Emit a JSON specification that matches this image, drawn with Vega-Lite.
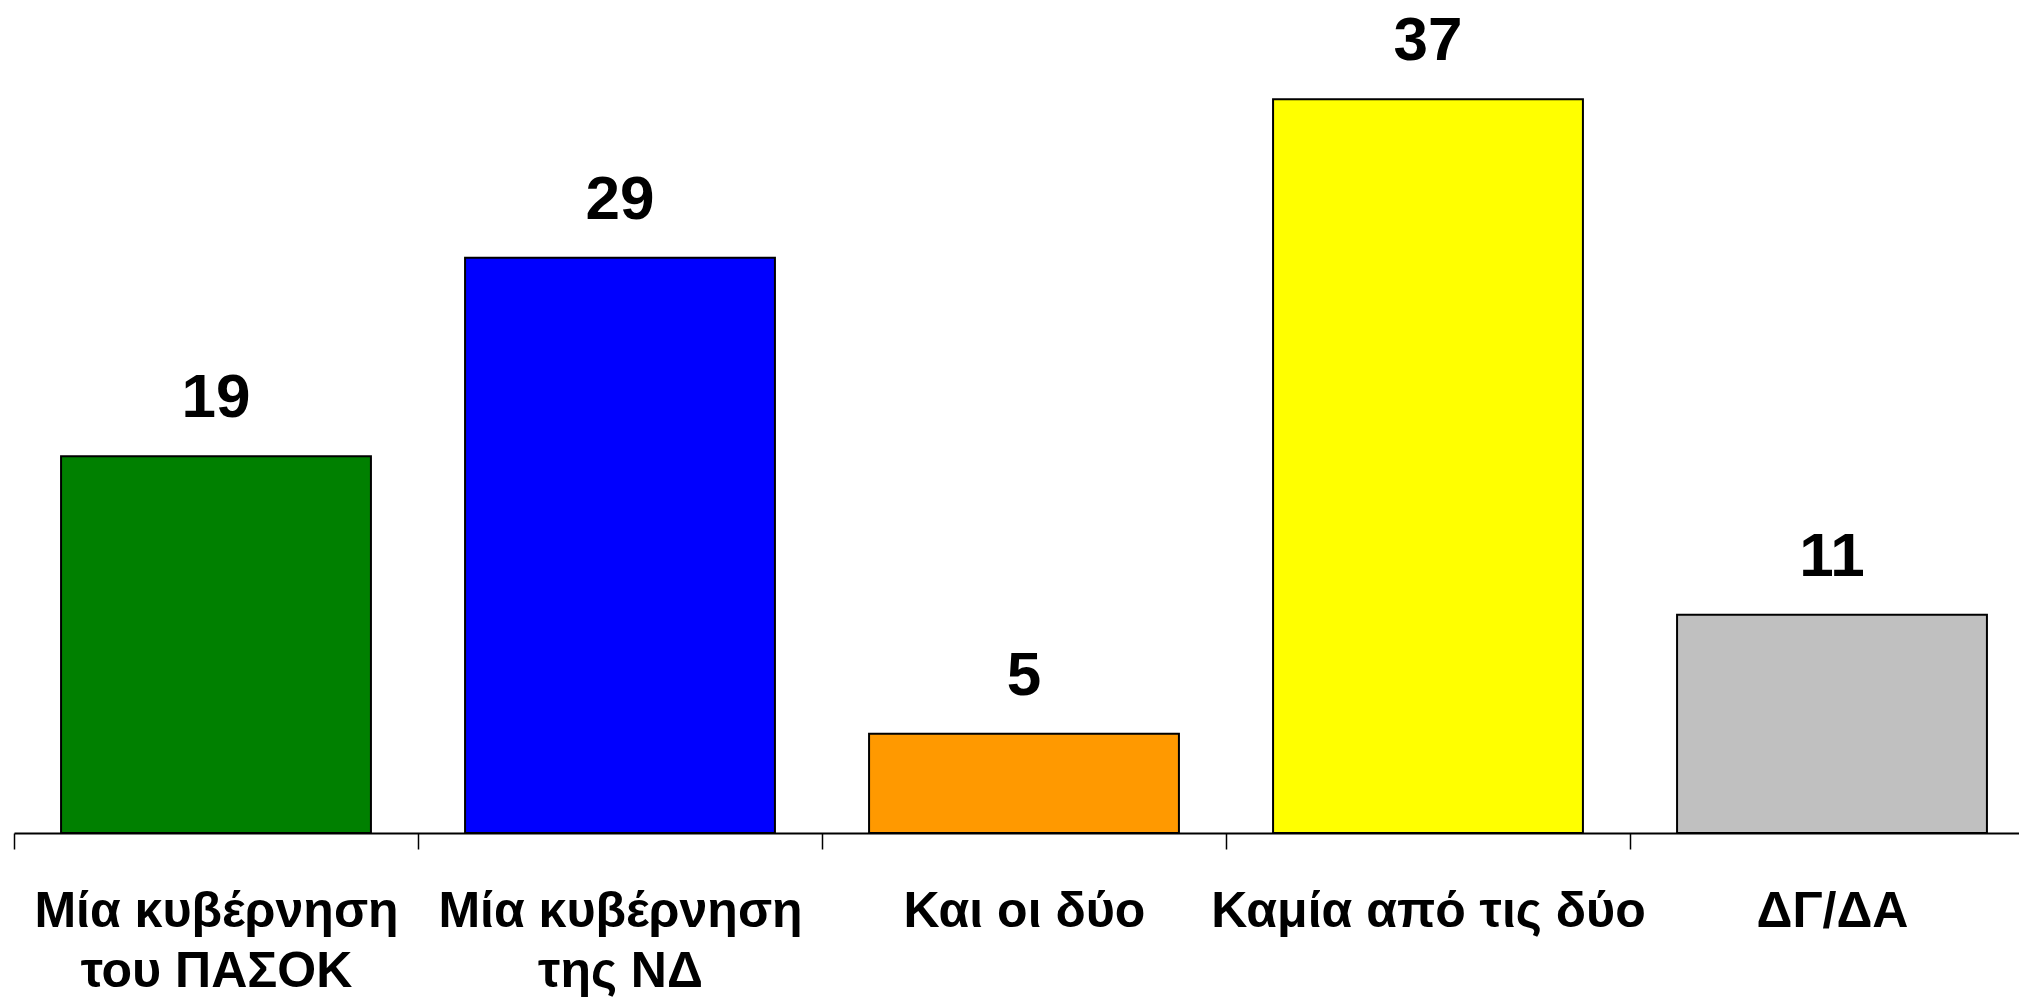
{
  "$schema": "https://vega.github.io/schema/vega-lite/v6.json",
  "autosize": "none",
  "width": 2020,
  "height": 833,
  "padding": {"left": 14, "top": 0, "right": 0, "bottom": 166},
  "background": "white",
  "config": {"view": {"stroke": null}},
  "data": {
    "values": [
      {"cat": "Μία κυβέρνηση\nτου ΠΑΣΟΚ", "value": 19, "color": "#008000"},
      {"cat": "Μία κυβέρνηση\nτης ΝΔ", "value": 29, "color": "#0000FF"},
      {"cat": "Και οι δύο", "value": 5, "color": "#FF9900"},
      {"cat": "Καμία από τις δύο", "value": 37, "color": "#FFFF00"},
      {"cat": "ΔΓ/ΔΑ", "value": 11, "color": "#C0C0C0"}
    ]
  },
  "encoding": {
    "x": {
      "field": "cat", "type": "nominal", "sort": null,
      "scale": {"paddingInner": 0, "paddingOuter": 0},
      "axis": {
        "title": null,
        "labelAngle": 0,
        "labelExpr": "split(datum.label, '\\n')",
        "labelFont": "Liberation Sans, Arial, sans-serif",
        "labelFontWeight": "bold",
        "labelFontSize": 50,
        "labelLineHeight": 60,
        "labelColor": "black",
        "labelPadding": 37,
        "labelLimit": 0,
        "labelBound": false,
        "labelOverlap": false,
        "tickBand": "extent",
        "tickSize": 16,
        "tickColor": "black",
        "tickWidth": 1.5,
        "domainColor": "black",
        "domainWidth": 2
      }
    },
    "y": {
      "field": "value", "type": "quantitative",
      "scale": {"domain": [0, 42], "nice": false},
      "axis": null
    }
  },
  "layer": [
    {
      "mark": {"type": "bar", "width": {"band": 0.767}, "stroke": "black", "strokeWidth": 2},
      "encoding": {
        "color": {"field": "color", "type": "nominal", "scale": null}
      }
    },
    {
      "mark": {
        "type": "text", "dy": -39, "baseline": "alphabetic",
        "font": "Liberation Sans, Arial, sans-serif",
        "fontWeight": "bold", "fontSize": 62, "color": "black"
      },
      "encoding": {"text": {"field": "value", "type": "quantitative"}}
    }
  ]
}
